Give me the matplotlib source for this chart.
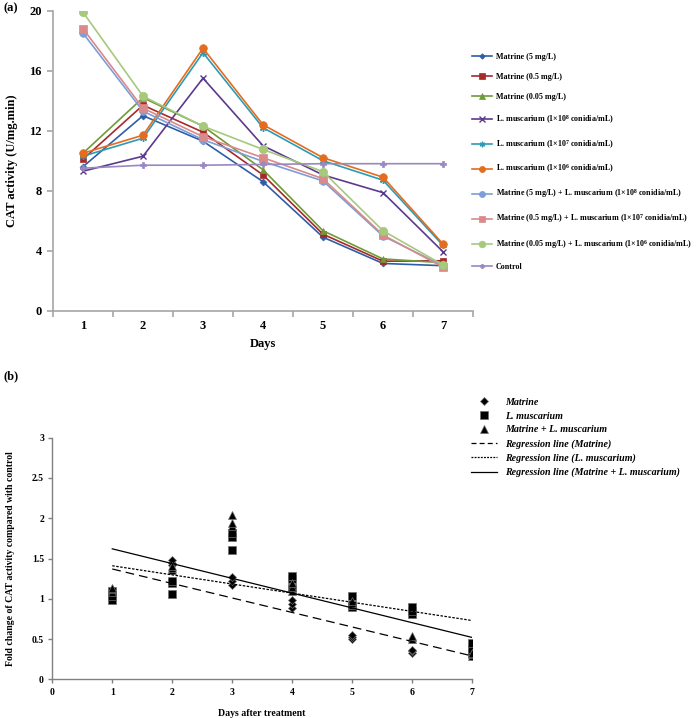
import matplotlib
matplotlib.use("Agg")
import matplotlib.pyplot as plt
from matplotlib.lines import Line2D

# ---------------- Data: panel (a) ----------------
days = [1, 2, 3, 4, 5, 6, 7]
series_labels = [
    "Matrine (5 mg/L)",
    "Matrine (0.5 mg/L)",
    "Matrine (0.05 mg/L)",
    "L. muscarium (1×10$^{8}$ conidia/mL)",
    "L. muscarium (1×10$^{7}$ conidia/mL)",
    "L. muscarium (1×10$^{6}$ conidia/mL)",
    "Matrine (5 mg/L) + L. muscarium (1×10$^{8}$ conidia/mL)",
    "Matrine (0.5 mg/L) + L. muscarium (1×10$^{7}$ conidia/mL)",
    "Matrine (0.05 mg/L) + L. muscarium (1×10$^{6}$ conidia/mL)",
    "Control",
]
matrine_5 = [9.6, 13.0, 11.3, 8.6, 4.9, 3.15, 3.0]
matrine_05 = [10.1, 13.7, 11.9, 9.05, 5.1, 3.3, 3.33]
matrine_005 = [10.5, 14.2, 12.3, 9.4, 5.33, 3.45, 3.2]
lm_1e8 = [9.3, 10.3, 15.5, 11.0, 9.05, 7.87, 3.93]
lm_1e7 = [10.3, 11.5, 17.2, 12.2, 10.0, 8.7, 4.35]
lm_1e6 = [10.5, 11.7, 17.5, 12.4, 10.2, 8.9, 4.45]
mix_5 = [18.5, 13.3, 11.4, 9.95, 8.65, 4.98, 3.0]
mix_05 = [18.8, 13.5, 11.6, 10.2, 8.8, 5.05, 2.9]
mix_005 = [19.9, 14.3, 12.3, 10.75, 9.27, 5.33, 3.05]
control = [9.5, 9.7, 9.7, 9.75, 9.8, 9.8, 9.8]
series_values = [matrine_5, matrine_05, matrine_005, lm_1e8, lm_1e7, lm_1e6,
                 mix_5, mix_05, mix_005, control]

# ---------------- Data: panel (b) ----------------
b_days = [1, 2, 3, 4, 5, 6, 7]
fold_matrine = [[1.02, 1.06, 1.10], [1.42, 1.45, 1.48], [1.17, 1.22, 1.27],
                [0.88, 0.93, 0.98], [0.50, 0.52, 0.55], [0.33, 0.35, 0.36],
                [0.30, 0.33, 0.36]]
fold_lm = [[0.98, 1.03, 1.10], [1.06, 1.20, 1.22], [1.60, 1.77, 1.82],
           [1.13, 1.25, 1.28], [0.90, 0.92, 1.03], [0.81, 0.85, 0.90],
           [0.33, 0.38, 0.45]]
fold_mix = [[1.08, 1.12, 1.13], [1.36, 1.38, 1.41], [1.90, 1.94, 2.04],
            [1.10, 1.15, 1.20], [0.92, 0.95, 0.97], [0.50, 0.52, 0.54],
            [0.29, 0.31, 0.33]]
reg_x = [1, 7]
reg_matrine = [1.37, 0.29]
reg_lm = [1.41, 0.73]
reg_mix = [1.62, 0.52]
b_labels = ["Matrine", "L. muscarium", "Matrine + L. muscarium",
            "Regression line (Matrine)", "Regression line (L. muscarium)",
            "Regression line (Matrine + L. muscarium)"]

# ---------------- Styling ----------------
plt.rcParams['font.family'] = ['Liberation Serif', 'DejaVu Serif']
plt.rcParams['font.weight'] = 'bold'
plt.rcParams['mathtext.fontset'] = 'custom'
plt.rcParams['mathtext.rm'] = 'Liberation Serif:bold'
plt.rcParams['mathtext.it'] = 'Liberation Serif:bold:italic'
plt.rcParams['mathtext.bf'] = 'Liberation Serif:bold'

W, H = 697, 718
fig = plt.figure(figsize=(W / 100, H / 100), dpi=100)

def fx(px):
    return px / W

def fy(py):
    return 1 - py / H

spine_gray = '#a6a6a6'

colors = ['#2f5ea8', '#a52a2a', '#6e9b36', '#5b3a8c', '#2e9ab5', '#e46c1e',
          '#7d9ed6', '#d98a8a', '#a6c97c', '#9a88c2']
markers = ['D', 's', '^', 'x', (6, 2, 0), 'o', 'o', 's', 'o', 'P']
msizes = [3.5, 5, 5, 5, 5, 5.5, 5.5, 6, 6, 4]

# ---------------- Panel (a) ----------------
axA = fig.add_axes([fx(53), fy(310.7), fx(473) - fx(53), fy(10.7) - fy(310.7)])
handles = []
for vals, lab, c, m, ms in zip(series_values, series_labels, colors, markers, msizes):
    ln, = axA.plot(days, vals, color=c, marker=m, markersize=ms, linewidth=1.2,
                   markeredgewidth=1.0 if m in ('x', (6, 2, 0)) else 0.5,
                   markeredgecolor=c, label=lab)
    handles.append(ln)
axA.set_xlim(0.5, 7.5)
axA.set_ylim(0, 20)
axA.set_yticks([0, 4, 8, 12, 16, 20])
axA.set_xticks(days)
axA.set_xticks([d - 0.5 for d in days] + [7.5], minor=True)
axA.tick_params(axis='x', which='major', length=0, labelsize=9, pad=7)
axA.tick_params(axis='x', which='minor', length=4, direction='out', color=spine_gray, width=1.2)
axA.tick_params(axis='y', length=4, direction='out', color=spine_gray, width=1.2,
                labelsize=9, pad=4)
for s in ['top', 'right']:
    axA.spines[s].set_visible(False)
for s in ['left', 'bottom']:
    axA.spines[s].set_color(spine_gray)
    axA.spines[s].set_linewidth(1.2)
axA.set_xlabel("Days", fontsize=9, fontweight='bold', labelpad=4)
axA.set_ylabel("CAT activity (U/mg.min)", fontsize=9, fontweight='bold', labelpad=8)

legA = fig.legend(handles=handles, loc='upper left',
                  bbox_to_anchor=(fx(472), fy(53)), frameon=False,
                  fontsize=5.8, handlelength=2.5, handletextpad=0.45,
                  labelspacing=1.5, borderaxespad=0, borderpad=0,
                  markerscale=0.8)
for t in legA.get_texts():
    t.set_fontweight('bold')

fig.text(fx(3), fy(8), "(a)", fontsize=9, fontweight='bold', va='center', ha='left')

# ---------------- Panel (b) ----------------
axB = fig.add_axes([fx(52.3), fy(679.3), fx(472) - fx(52.3), fy(437.7) - fy(679.3)])
mk_kw = dict(color='black', markeredgecolor='#707070', markeredgewidth=0.5, linestyle='none')
for d, vm, vl, vx in zip(b_days, fold_matrine, fold_lm, fold_mix):
    axB.plot([d] * len(vm), vm, marker='D', markersize=4.5, **mk_kw)
    axB.plot([d] * len(vl), vl, marker='s', markersize=6, **mk_kw)
    axB.plot([d] * len(vx), vx, marker='^', markersize=6, **mk_kw)
axB.plot(reg_x, reg_matrine, color='black', linestyle=(0, (7, 4)), linewidth=0.9)
axB.plot(reg_x, reg_lm, color='black', linestyle=(0, (2, 1.2)), linewidth=0.9)
axB.plot(reg_x, reg_mix, color='black', linestyle='-', linewidth=0.9)
axB.set_xlim(0, 7)
axB.set_ylim(0, 3)
axB.set_xticks(range(0, 8))
axB.set_yticks([0, 0.5, 1, 1.5, 2, 2.5, 3])
axB.set_yticklabels(["0", "0.5", "1", "1.5", "2", "2.5", "3"])
axB.tick_params(axis='both', length=3, direction='out', color='#808080', width=1.0,
                labelsize=7, pad=3)
for s in ['top', 'right']:
    axB.spines[s].set_visible(False)
for s in ['left', 'bottom']:
    axB.spines[s].set_color('#808080')
    axB.spines[s].set_linewidth(1.0)
axB.set_xlabel("Days after treatment", fontsize=7, fontweight='bold', labelpad=9)
axB.set_ylabel("Fold change of CAT activity compared with control", fontsize=7,
               fontweight='bold', labelpad=12)

hB = [
    Line2D([], [], marker='D', markersize=4.5, **mk_kw),
    Line2D([], [], marker='s', markersize=6, **mk_kw),
    Line2D([], [], marker='^', markersize=6, **mk_kw),
    Line2D([], [], color='black', linestyle=(0, (4, 2.5)), linewidth=0.9),
    Line2D([], [], color='black', linestyle=(0, (1.5, 1)), linewidth=0.9),
    Line2D([], [], color='black', linestyle='-', linewidth=0.9),
]
legB = fig.legend(handles=hB, labels=b_labels, loc='upper left',
                  bbox_to_anchor=(fx(471), fy(398)), frameon=False,
                  fontsize=7.2, handlelength=2.6, handletextpad=0.8,
                  labelspacing=0.47, borderaxespad=0, borderpad=0)
for t in legB.get_texts():
    t.set_fontweight('bold')
    t.set_fontstyle('italic')

fig.text(fx(3), fy(376), "(b)", fontsize=9, fontweight='bold', va='center', ha='left')

fig.savefig("out.png", dpi=100)
